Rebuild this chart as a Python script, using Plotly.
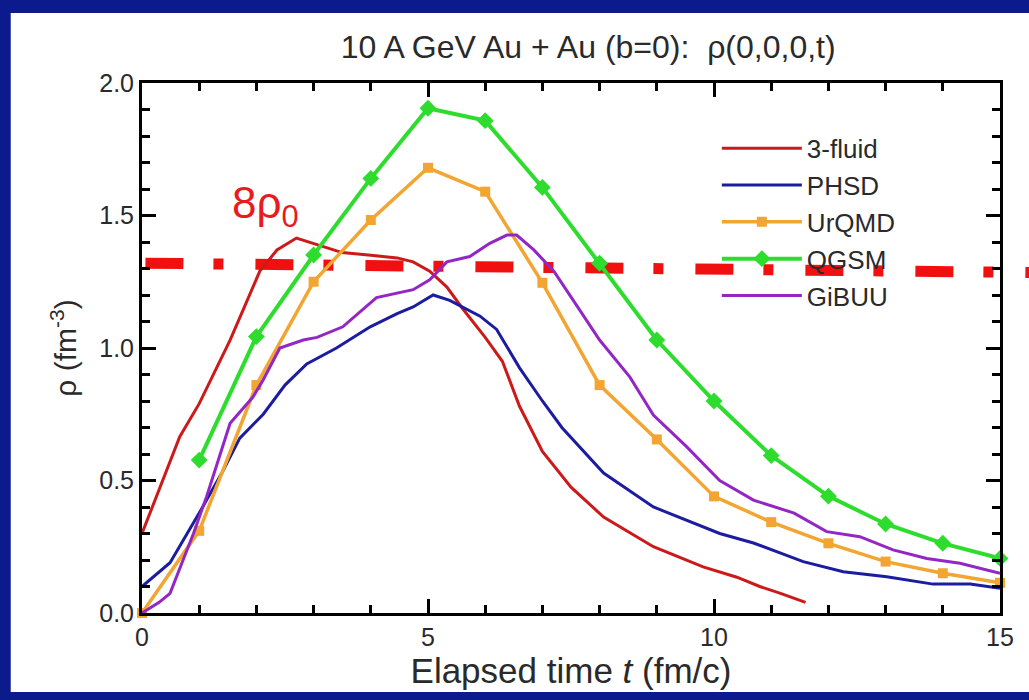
import plotly.graph_objects as go

# ---- data ----
t_3fluid = [0, 0.33, 0.66, 1.0, 1.3, 1.54, 1.8, 2.06, 2.36, 2.7, 3.06, 3.5, 4.0, 4.46, 4.74,
            5.03, 5.33, 5.6, 6.0, 6.3, 6.6, 7.0, 7.5, 8.07, 8.94, 9.81, 10.4, 10.8, 11.15, 11.6]
rho_3fluid = [0.30, 0.48, 0.665, 0.79, 0.92, 1.03, 1.16, 1.29, 1.37, 1.415, 1.39, 1.36, 1.35, 1.34, 1.325,
              1.29, 1.23, 1.15, 1.04, 0.95, 0.78, 0.61, 0.475, 0.362, 0.25, 0.174, 0.135, 0.10, 0.075, 0.04]

t_phsd = [0, 0.49, 1.0, 1.4, 1.71, 2.12, 2.5, 2.88, 3.4, 3.99, 4.46, 4.74, 5.09, 5.38, 5.91, 6.2,
          6.6, 7.0, 7.34, 8.07, 8.94, 9.52, 10.1, 10.69, 11.15, 11.56, 12.26, 13.02, 13.83, 14.48, 15.0]
rho_phsd = [0.10, 0.19, 0.377, 0.53, 0.66, 0.75, 0.86, 0.94, 1.0, 1.08, 1.13, 1.155, 1.20, 1.18, 1.12, 1.07,
            0.925, 0.80, 0.70, 0.528, 0.40, 0.35, 0.30, 0.264, 0.226, 0.194, 0.156, 0.137, 0.109, 0.109, 0.093]

t_urqmd = list(range(0, 16))
rho_urqmd = [0.0, 0.31, 0.86, 1.25, 1.483, 1.68, 1.59, 1.246, 0.86, 0.655, 0.44, 0.343, 0.263, 0.194, 0.15, 0.114]

t_qgsm = list(range(1, 16))
rho_qgsm = [0.577, 1.043, 1.351, 1.64, 1.905, 1.858, 1.606, 1.32, 1.03, 0.80, 0.594, 0.441, 0.336, 0.263, 0.206]

t_gibuu = [0, 0.3, 0.49, 0.66, 0.9, 1.13, 1.54, 1.94, 2.12, 2.41, 2.82, 3.06, 3.51, 4.1, 4.74, 5.03, 5.33,
           5.73, 6.08, 6.38, 6.55, 6.85, 7.2, 7.54, 8.0, 8.53, 8.94, 9.52, 10.1, 10.69, 11.15, 11.4, 11.97,
           12.55, 13.13, 13.72, 14.3, 15.0]
rho_gibuu = [0.0, 0.04, 0.074, 0.17, 0.30, 0.44, 0.716, 0.815, 0.88, 1.0, 1.03, 1.04, 1.08, 1.19, 1.22, 1.257, 1.325,
             1.345, 1.395, 1.426, 1.426, 1.37, 1.29, 1.18, 1.03, 0.89, 0.747, 0.628, 0.50, 0.426, 0.396, 0.377, 0.307,
             0.288, 0.238, 0.206, 0.188, 0.15]

# 8 rho_0 reference line (left / right end values as drawn)
ref_level = [1.32, 1.285]
ref_label = "8ρ<sub>0</sub>"

x_ticks = [0, 5, 10, 15]
y_ticks = [0.0, 0.5, 1.0, 1.5, 2.0]

FONT = "Liberation Sans, Arial, Helvetica, sans-serif"
TXT = "#2a2a2a"

fig = go.Figure()
fig.add_trace(go.Scatter(x=t_3fluid, y=rho_3fluid, mode="lines", name="3-fluid",
                         line=dict(color="#cc1a1a", width=3)))
fig.add_trace(go.Scatter(x=t_phsd, y=rho_phsd, mode="lines", name="PHSD",
                         line=dict(color="#1c1ca0", width=3)))
fig.add_trace(go.Scatter(x=t_urqmd, y=rho_urqmd, mode="lines+markers", name="UrQMD",
                         line=dict(color="#f2a531", width=3.5),
                         marker=dict(symbol="square", size=10, color="#f2a531"), cliponaxis=False))
fig.add_trace(go.Scatter(x=t_qgsm, y=rho_qgsm, mode="lines+markers", name="QGSM",
                         line=dict(color="#2edc2e", width=4),
                         marker=dict(symbol="diamond", size=13, color="#2edc2e"), cliponaxis=False))
fig.add_trace(go.Scatter(x=t_gibuu, y=rho_gibuu, mode="lines", name="GiBUU",
                         line=dict(color="#9326c4", width=3)))

shapes = [
    # white slide panel
    dict(type="rect", xref="paper", yref="paper", x0=-0.153, x1=1.04, y0=-0.149, y1=1.132,
         fillcolor="white", line=dict(width=0), layer="below"),
    # 8 rho_0 dash-dot line
    dict(type="line", xref="paper", yref="y", x0=0.004, x1=1.034, y0=ref_level[0], y1=ref_level[1],
         line=dict(color="#f01010", width=11, dash="38px,30px,10px,32px"), layer="below"),
]

axis_common = dict(showline=True, linecolor="black", linewidth=3, mirror="allticks",
                   ticks="inside", ticklen=14, tickwidth=2.5, tickcolor="black",
                   showgrid=False, zeroline=False,
                   tickfont=dict(family=FONT, size=25, color=TXT))

fig.update_layout(
    width=1029, height=700,
    margin=dict(l=142, r=29, t=83, b=87),
    paper_bgcolor="#0b1a8c",
    plot_bgcolor="rgba(0,0,0,0)",
    shapes=shapes,
    title=dict(text="10 A GeV Au + Au (b=0):  ρ(0,0,0,t)", x=0.52, xref="paper", xanchor="center",
               y=1 - 47 / 700, yref="container", yanchor="middle",
               font=dict(family=FONT, size=32, color=TXT)),
    xaxis=dict(range=[0, 15], tickvals=x_ticks, ticktext=[str(v) for v in x_ticks],
               minor=dict(dtick=1, ticks="inside", ticklen=8, tickwidth=2.5, tickcolor="black"),
               title=dict(text="Elapsed time <i>t</i> (fm/c)", standoff=0,
                          font=dict(family=FONT, size=35, color=TXT)),
               **axis_common),
    yaxis=dict(range=[0, 2.0], tickvals=y_ticks, ticktext=[f"{v:.1f}" for v in y_ticks],
               minor=dict(dtick=0.1, ticks="inside", ticklen=8, tickwidth=2.5, tickcolor="black"),
               title=dict(text="ρ (fm<sup>-3</sup>)", standoff=14,
                          font=dict(family=FONT, size=30, color=TXT)),
               **axis_common),
    legend=dict(x=0.670, y=0.921, xanchor="left", yanchor="top", bgcolor="rgba(0,0,0,0)",
                font=dict(family=FONT, size=26, color=TXT), itemwidth=80,
                tracegroupgap=0),
    annotations=[dict(text=ref_label, x=1.54, y=1.535, xref="x", yref="y", xanchor="left",
                      yanchor="middle", showarrow=False,
                      font=dict(family=FONT, size=44, color="#e81c1c"))],
)

fig.write_html("out.html")
